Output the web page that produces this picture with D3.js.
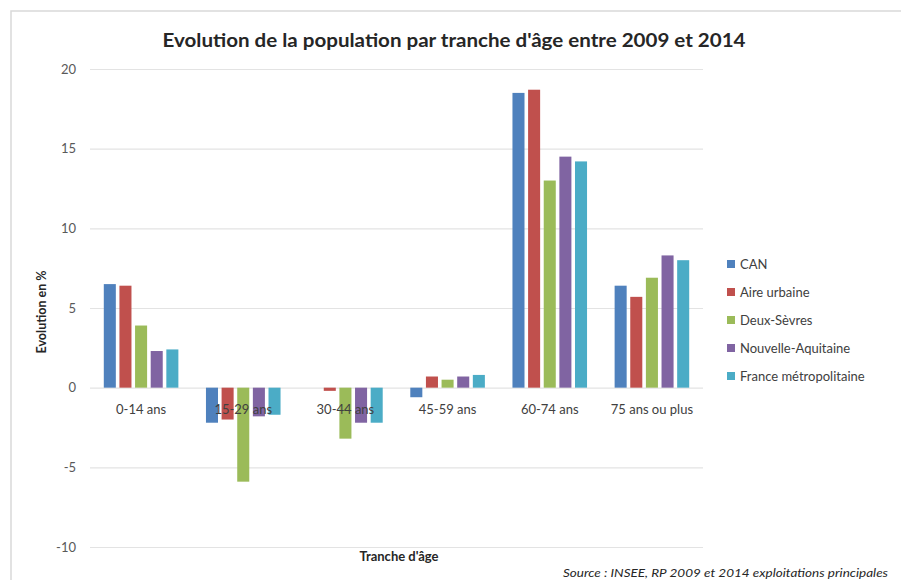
<!DOCTYPE html>
<html lang="fr">
<head>
<meta charset="utf-8">
<script src="https://cdn.jsdelivr.net/npm/d3@7"></script>
<style>
  body { margin: 0; background: #fff; }
  text { font-family: Lato, "Open Sans", sans-serif; }
</style>
</head>
<body>
<div id="chart"></div>
<script>
// Données
const tranches = ["0-14 ans", "15-29 ans", "30-44 ans", "45-59 ans", "60-74 ans", "75 ans ou plus"];
const series = ["CAN", "Aire urbaine", "Deux-Sèvres", "Nouvelle-Aquitaine", "France métropolitaine"];
const can = [6.5, -2.2, 0, -0.6, 18.5, 6.4];
const aireUrbaine = [6.4, -2.0, -0.2, 0.7, 18.7, 5.7];
const deuxSevres = [3.9, -5.9, -3.2, 0.5, 13.0, 6.9];
const nouvelleAquitaine = [2.3, -1.8, -2.2, 0.7, 14.5, 8.3];
const franceMetro = [2.4, -1.7, -2.2, 0.8, 14.2, 8.0];
const yTicks = [-10, -5, 0, 5, 10, 15, 20];
const couleurs = ["#4f81bd", "#c0504d", "#9bbb59", "#8064a2", "#4bacc6"];

const valeurs = [can, aireUrbaine, deuxSevres, nouvelleAquitaine, franceMetro];
const data = tranches.map((t, i) => ({
    tranche: t,
    values: series.map((s, j) => ({ serie: s, value: valeurs[j][i] }))
}));

const width = 901, height = 580;
const svg = d3.select("#chart")
    .append("svg")
    .attr("width", width)
    .attr("height", height);

// Cadre du graphique
svg.append("rect")
    .attr("x", 11).attr("y", 11)
    .attr("width", width + 20).attr("height", height + 20)
    .attr("fill", "none")
    .attr("stroke", "#d9d9d9")
    .attr("stroke-width", 1.5);

const plot = { left: 90, right: 703, top: 69, bottom: 547 };

const y = d3.scaleLinear()
    .domain([-10, 20])
    .range([plot.bottom, plot.top]);

const x0 = d3.scaleBand()
    .domain(tranches)
    .range([plot.left, plot.right])
    .paddingInner(0.27)
    .paddingOuter(0.135);

const x1 = d3.scaleBand()
    .domain(series)
    .range([0, x0.bandwidth()])
    .paddingInner(0.23);

const color = d3.scaleOrdinal().domain(series).range(couleurs);

// Lignes de quadrillage
svg.append("g")
    .selectAll("line")
    .data(yTicks)
    .join("line")
    .attr("x1", plot.left)
    .attr("x2", plot.right)
    .attr("y1", d => y(d) + 0.5)
    .attr("y2", d => y(d) + 0.5)
    .attr("stroke", "#e3e3e3")
    .attr("stroke-width", 1.2);

// Axe Y (tiret simple comme dans Excel)
const yAxis = svg.append("g")
    .attr("transform", `translate(${plot.left},0)`)
    .call(d3.axisLeft(y).tickValues(yTicks).tickSize(0).tickPadding(14)
        .tickFormat(d => String(d)));
yAxis.select(".domain").remove();
yAxis.selectAll("text")
    .style("font-size", "13px")
    .style("font-family", "Lato, sans-serif")
    .attr("fill", "#595959");

// Barres
svg.append("g")
    .selectAll("g")
    .data(data)
    .join("g")
    .attr("transform", d => `translate(${x0(d.tranche)},0)`)
    .selectAll("rect")
    .data(d => d.values)
    .join("rect")
    .attr("x", d => x1(d.serie))
    .attr("y", d => y(Math.max(0, d.value)))
    .attr("width", x1.bandwidth())
    .attr("height", d => Math.abs(y(d.value) - y(0)))
    .attr("fill", d => color(d.serie));

// Étiquettes de l'axe X (au niveau de zéro)
svg.append("g")
    .selectAll("text")
    .data(tranches)
    .join("text")
    .attr("x", d => x0(d) + x0.bandwidth() / 2)
    .attr("y", y(0) + 26)
    .attr("text-anchor", "middle")
    .style("font-size", "13px")
    .attr("fill", "#404040")
    .text(d => d);

// Titre
svg.append("text")
    .attr("x", 454)
    .attr("y", 47)
    .attr("text-anchor", "middle")
    .attr("textLength", 583)
    .attr("lengthAdjust", "spacingAndGlyphs")
    .style("font-size", "18px")
    .style("font-weight", "bold")
    .attr("fill", "#262626")
    .text("Evolution de la population par tranche d'âge entre 2009 et 2014");

// Titre axe Y
svg.append("text")
    .attr("transform", "translate(46,312) rotate(-90)")
    .attr("text-anchor", "middle")
    .style("font-size", "12.5px")
    .style("font-weight", "bold")
    .attr("fill", "#262626")
    .text("Evolution en %");

// Titre axe X
svg.append("text")
    .attr("x", 399)
    .attr("y", 561)
    .attr("text-anchor", "middle")
    .style("font-size", "13px")
    .style("font-weight", "bold")
    .attr("fill", "#262626")
    .text("Tranche d'âge");

// Source
svg.append("text")
    .attr("x", 888)
    .attr("y", 577)
    .attr("text-anchor", "end")
    .attr("textLength", 325)
    .attr("lengthAdjust", "spacingAndGlyphs")
    .style("font-size", "11px")
    .style("font-style", "italic")
    .attr("fill", "#262626")
    .text("Source : INSEE, RP 2009 et 2014 exploitations principales");

// Légende
const legend = svg.append("g")
    .selectAll("g")
    .data(series)
    .join("g")
    .attr("transform", (d, i) => `translate(727, ${264 + i * 28})`);

legend.append("rect")
    .attr("y", -4)
    .attr("width", 8)
    .attr("height", 8)
    .attr("fill", d => color(d));

legend.append("text")
    .attr("x", 13)
    .attr("dy", "0.35em")
    .style("font-size", "13px")
    .attr("fill", "#404040")
    .text(d => d);
</script>
</body>
</html>
